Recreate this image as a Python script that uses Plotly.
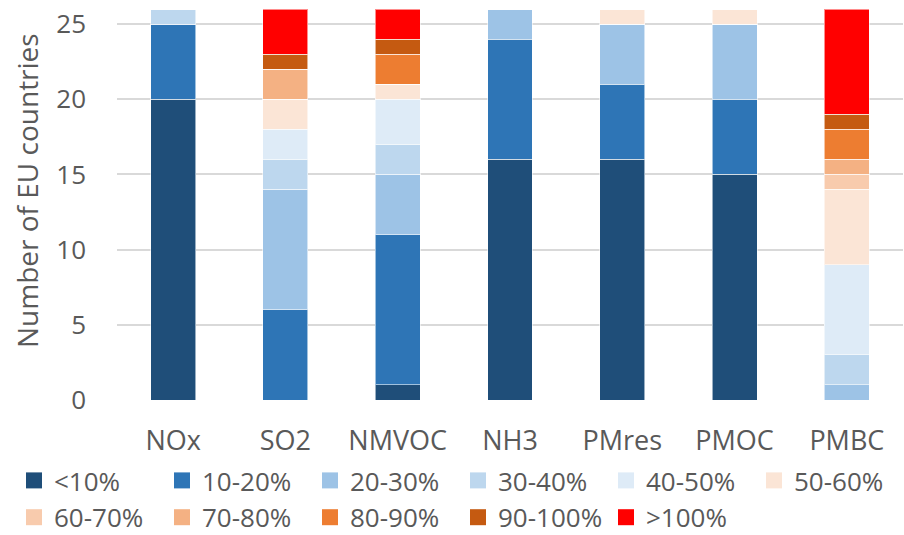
import plotly.graph_objects as go

categories = ["NOx", "SO2", "NMVOC", "NH3", "PMres", "PMOC", "PMBC"]
bins = ["<10%", "10-20%", "20-30%", "30-40%", "40-50%", "50-60%",
        "60-70%", "70-80%", "80-90%", "90-100%", ">100%"]
lt10 = [20, 0, 1, 16, 16, 15, 0]
b10_20 = [5, 6, 10, 8, 5, 5, 0]
b20_30 = [0, 8, 4, 2, 4, 5, 1]
b30_40 = [1, 2, 2, 0, 0, 0, 2]
b40_50 = [0, 2, 3, 0, 0, 0, 6]
b50_60 = [0, 2, 1, 0, 1, 1, 5]
b60_70 = [0, 0, 0, 0, 0, 0, 1]
b70_80 = [0, 2, 0, 0, 0, 0, 1]
b80_90 = [0, 0, 2, 0, 0, 0, 2]
b90_100 = [0, 1, 1, 0, 0, 0, 1]
gt100 = [0, 3, 2, 0, 0, 0, 7]
series = [lt10, b10_20, b20_30, b30_40, b40_50, b50_60,
          b60_70, b70_80, b80_90, b90_100, gt100]
colors = ["#1F4E79", "#2E75B6", "#9DC3E6", "#BDD7EE", "#DEEBF7", "#FBE5D6",
          "#F8CBAD", "#F4B183", "#ED7D31", "#C55A11", "#FF0000"]
y_ticks = [0, 5, 10, 15, 20, 25]
y_title = "Number of EU countries"

FONT = "Open Sans, Calibri, sans-serif"
TXT = "#595959"
W, H = 904, 535
ML, MR, MT, MB = 117, 1, 9, 135
PW, PH = W - ML - MR, H - MT - MB

fig = go.Figure()
for name, vals, col in zip(bins, series, colors):
    fig.add_trace(go.Bar(
        x=categories, y=vals, name=name, legendgroup=name, showlegend=False,
        marker=dict(color=col, line=dict(color="rgba(255,255,255,0.55)", width=1)),
    ))
# legend entries (square swatches)
for name, col in zip(bins, colors):
    fig.add_trace(go.Scatter(
        x=[None], y=[None], mode="markers", name=name, legendgroup=name,
        marker=dict(symbol="square", size=16, color=col, line=dict(width=0)),
    ))

fig.update_layout(
    barmode="stack",
    bargap=0.6,
    width=W, height=H,
    margin=dict(l=ML, r=MR, t=MT, b=MB, autoexpand=False),
    plot_bgcolor="white", paper_bgcolor="white",
    font=dict(family=FONT, size=26, color=TXT),
    xaxis=dict(showgrid=False, showline=False, ticks="", zeroline=False,
               tickfont=dict(size=27), ticklabelstandoff=22, automargin=False),
    yaxis=dict(range=[0, 26], tickvals=y_ticks, showgrid=True, gridcolor="#D9D9D9",
               gridwidth=1.5, zeroline=False, showline=False, ticks="",
               ticklabelstandoff=30, tickfont=dict(size=26), automargin=False,
               ticklabeloverflow="allow"),
    legend=dict(orientation="h", xref="paper", yref="paper",
                x=(14 - ML) / PW, xanchor="left", y=-57 / PH, yanchor="top",
                entrywidth=103, entrywidthmode="pixels", traceorder="normal",
                font=dict(size=26), itemwidth=30, tracegroupgap=0),
    annotations=[dict(text=y_title, textangle=-90, xref="paper", yref="paper",
                      x=(27 - ML) / PW, y=(400 - 191) / PH, xanchor="center",
                      yanchor="middle", showarrow=False, font=dict(size=28, color=TXT))],
)
fig.write_html("out.html", config={"displayModeBar": False},
               post_script="document.body.style.margin='0';document.body.style.padding='0';")
